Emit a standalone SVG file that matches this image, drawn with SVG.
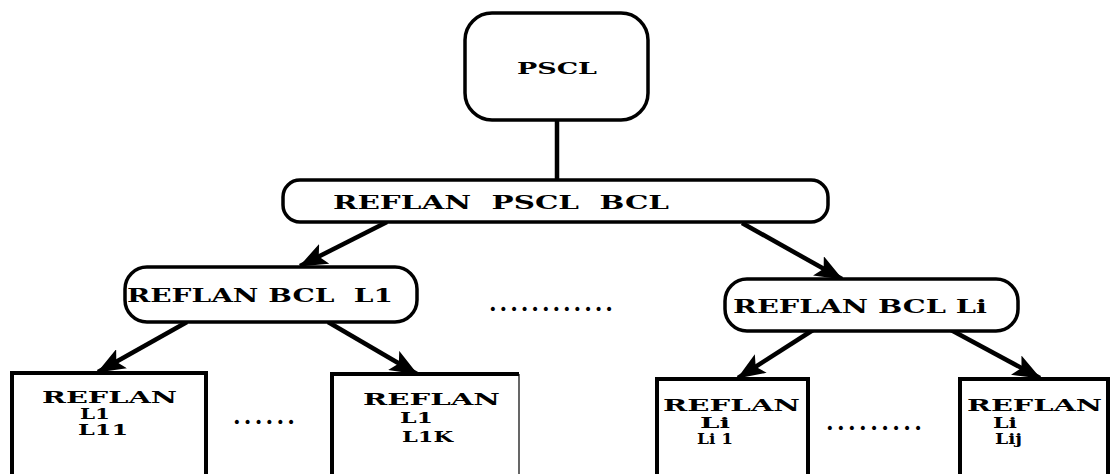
<svg xmlns="http://www.w3.org/2000/svg" width="1120" height="474" viewBox="0 0 1120 474">
<defs>
<style>
.box{fill:#fff;stroke:#000;stroke-width:3.5}
.sq{fill:#fff;stroke:#000;stroke-width:4}
.t{font-family:"DejaVu Serif","Liberation Serif",serif;font-weight:bold;fill:#000;white-space:pre}
.m{font-size:19px}
.s{font-size:16px}
.u{font-size:14.5px}
.d{font-size:22px}
.c{stroke:#000;stroke-width:4.5;fill:none}
</style>
<marker id="ah" markerUnits="userSpaceOnUse" viewBox="0 0 28 22" markerWidth="28" markerHeight="22" refX="27" refY="11" orient="auto">
<path d="M0,0 L28,11 L0,22 L6,11 Z" fill="#000"/>
</marker>
</defs>
<rect width="1120" height="474" fill="#fff"/>
<g id="connectors">
<line class="c" x1="557" y1="118" x2="557" y2="181"/>
<line class="c" x1="387" y1="222" x2="300" y2="266" marker-end="url(#ah)"/>
<line class="c" x1="742" y1="223" x2="842" y2="279" marker-end="url(#ah)"/>
<line class="c" x1="187" y1="322" x2="98" y2="372" marker-end="url(#ah)"/>
<line class="c" x1="328" y1="322" x2="417" y2="374" marker-end="url(#ah)"/>
<line class="c" x1="813" y1="330" x2="738" y2="378" marker-end="url(#ah)"/>
<line class="c" x1="951" y1="330" x2="1040" y2="378" marker-end="url(#ah)"/>
</g>
<g id="pscl">
<rect class="box" x="465" y="13" width="183" height="107" rx="27"/>
<text class="t" style="font-size:17px" x="517" y="74" textLength="80" lengthAdjust="spacingAndGlyphs">PSCL</text>
</g>
<g id="reflan-pscl-bcl">
<rect class="box" x="283" y="180" width="545" height="42" rx="17"/>
<text class="t m" x="333" y="209" textLength="336" lengthAdjust="spacingAndGlyphs">REFLAN  PSCL  BCL</text>
</g>
<g id="reflan-bcl-l1">
<rect class="box" x="125" y="267" width="292" height="55" rx="22"/>
<text class="t m" x="127" y="302" textLength="266" lengthAdjust="spacingAndGlyphs">REFLAN BCL  L1</text>
</g>
<g id="reflan-bcl-li">
<rect class="box" x="725" y="279" width="293" height="52" rx="22"/>
<text class="t m" x="733" y="313" textLength="254" lengthAdjust="spacingAndGlyphs">REFLAN BCL Li</text>
</g>
<text class="t d" x="489" y="311" textLength="124" lengthAdjust="spacing">............</text>
<g id="l11">
<path class="sq" d="M12,476 V373 H206 V476"/>
<text class="t s" x="42" y="403" textLength="135" lengthAdjust="spacingAndGlyphs">REFLAN</text>
<text class="t u" x="80" y="419" textLength="30" lengthAdjust="spacingAndGlyphs">L1</text>
<text class="t u" x="78" y="435" textLength="50" lengthAdjust="spacingAndGlyphs">L11</text>
</g>
<text class="t d" x="233" y="424" textLength="62" lengthAdjust="spacing">......</text>
<g id="l1k">
<path class="sq" d="M332,476 V374 H519"/>
<line x1="519" y1="374" x2="519" y2="476" stroke="#000" stroke-width="1.2"/>
<text class="t s" x="363" y="405" textLength="137" lengthAdjust="spacingAndGlyphs">REFLAN</text>
<text class="t u" x="400" y="423" textLength="33" lengthAdjust="spacingAndGlyphs">L1</text>
<text class="t u" x="402" y="442" textLength="51" lengthAdjust="spacingAndGlyphs">L1K</text>
</g>
<g id="li1">
<path class="sq" d="M657,476 V379 H808 V476"/>
<text class="t s" x="663" y="411" textLength="137" lengthAdjust="spacingAndGlyphs">REFLAN</text>
<text class="t u" x="700" y="428" textLength="30" lengthAdjust="spacingAndGlyphs">Li</text>
<text class="t u" x="697" y="444" textLength="36" lengthAdjust="spacingAndGlyphs">Li 1</text>
</g>
<text class="t d" x="826" y="430" textLength="96" lengthAdjust="spacing">.........</text>
<g id="lij">
<path class="sq" d="M960,476 V379 H1108 V476"/>
<text class="t s" x="967" y="411" textLength="135" lengthAdjust="spacingAndGlyphs">REFLAN</text>
<text class="t u" x="993" y="428" textLength="24" lengthAdjust="spacingAndGlyphs">Li</text>
<text class="t u" x="995" y="444" textLength="27" lengthAdjust="spacingAndGlyphs">Lij</text>
</g>
</svg>
